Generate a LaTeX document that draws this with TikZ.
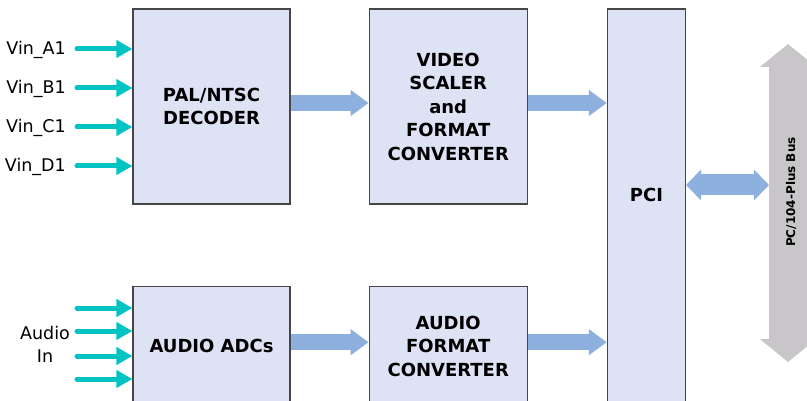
\documentclass[tikz,border=0pt]{standalone}
\usepackage{fontspec}
\setmainfont{DejaVu Sans}
\usepackage{xcolor}
\usepackage{tikz}
\usetikzlibrary{positioning, arrows.meta}
\definecolor{boxfill}{RGB}{221,227,245}
\definecolor{boxline}{RGB}{70,70,70}
\definecolor{flowblue}{RGB}{141,176,222}
\definecolor{vincyan}{RGB}{0,196,196}
\definecolor{busgray}{RGB}{200,198,201}

\begin{document}
\begin{tikzpicture}[
    x=1pt, y=-1pt,
    block/.style={
        draw=boxline,
        line width=1.2pt,
        fill=boxfill,
        inner sep=0pt,
        align=center,
        font=\bfseries\fontsize{18}{23.5}\selectfont,
        minimum width=157pt
    },
    lbl/.style={font=\fontsize{17.5}{23}\selectfont, align=center, inner sep=0pt},
    vinarrow/.style={-{Triangle[length=16pt,width=17pt]}, line width=5pt, draw=vincyan, line cap=round},
    flow/.style={-{Triangle[length=18pt,width=25pt]}, line width=16pt, draw=flowblue},
    duplex/.style={{Triangle[length=15pt,width=30pt]}-{Triangle[length=15pt,width=30pt]}, line width=21pt, draw=flowblue},
    bus/.style={{Triangle[length=23pt,width=55pt]}-{Triangle[length=23pt,width=55pt]}, line width=39pt, draw=busgray}
]
\useasboundingbox (0,0) rectangle (807,401);
\clip (0,0) rectangle (807,401);

%  Video path 
\node[block, minimum height=195pt] (dec) at (211.5,106.5) {PAL/NTSC\\DECODER};
\node[block, minimum height=195pt, minimum width=158pt, right=78pt of dec] (scaler) {VIDEO\\SCALER\\and\\FORMAT\\CONVERTER};
\node[block, minimum height=396pt, minimum width=78pt, below right=0pt and 79pt of scaler.north east] (pci) {};
\node[font=\bfseries\fontsize{18}{23.5}\selectfont, inner sep=0pt] (pcilabel) at (pci.center |- 0,195) {PCI};

%  Audio path 
\node[block, minimum height=120pt, below=81pt of dec] (adc) {AUDIO ADCs};
\node[block, minimum height=120pt, minimum width=158pt, below=81pt of scaler] (afc) {AUDIO\\FORMAT\\CONVERTER};

%  Inputs 
\foreach \n/\y in {A1/49, B1/88, C1/127, D1/166} {
    \node[lbl, anchor=base east] (vin\n) at (66,\y+6) {Vin\_\n};
    \coordinate (vinsrc\n) at (77,\y);
    \draw[vinarrow] (vinsrc\n) -- (dec.west |- vinsrc\n);
}
\node[lbl] (audioin) at (45,344) {Audio\\In};
\foreach \y in {308,331,356,379} {
    \coordinate (ain\y) at (77,\y);
    \draw[vinarrow] (ain\y) -- (adc.west |- ain\y);
}

%  Data flow 
\draw[flow] ([yshift=3.5pt]dec.east) -- ([yshift=3.5pt]scaler.west);
\coordinate (vidout) at ([yshift=3.5pt]scaler.east);
\draw[flow] (vidout) -- (pci.west |- vidout);
\draw[flow] ([yshift=4pt]adc.east) -- ([yshift=4pt]afc.west);
\coordinate (audout) at ([yshift=4pt]afc.east);
\draw[flow] (audout) -- (pci.west |- audout);

%  Bus 
\coordinate (bustop) at (788,44);
\coordinate (busbot) at (788,362);
\draw[bus] (bustop) -- (busbot);
\node[rotate=90, font=\bfseries\fontsize{12}{14}\selectfont, inner sep=0pt] (buslabel) at (791,192) {PC/104-Plus Bus};
\coordinate (busport) at (769,185);
\draw[duplex] (pci.east |- busport) -- (busport);

\end{tikzpicture}
\end{document}
